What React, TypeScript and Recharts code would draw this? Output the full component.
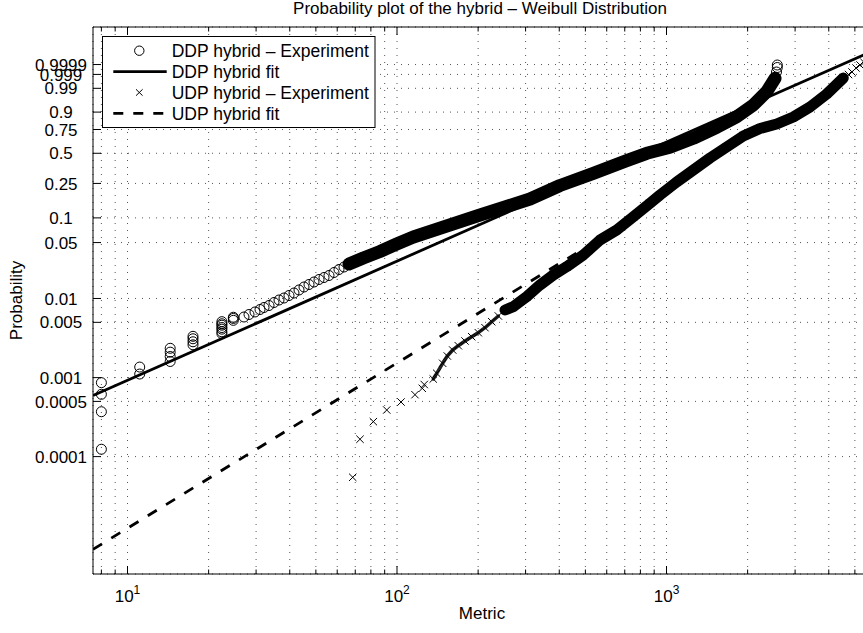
import React from "react"
import { ComposedChart, XAxis, YAxis, CartesianGrid, Line, Scatter } from "recharts"

// DDP hybrid - experiment: the separate circles (left) and the hook at the top
const ddpMetric = [
  8, 8, 8, 8, 11.1, 11.1, 14.4, 14.4, 14.4, 14.4, 17.5, 17.5, 17.5, 17.5,
  22.4, 22.4, 22.4, 22.4, 22.4, 22.4, 22.4, 24.7, 24.7, 24.7,
  27.05, 28.24, 29.72, 31.02, 32.1, 33.5, 34.96, 36.49, 38.08, 39.74, 41.48, 43.29,
  45.18, 47.15, 49.21, 51.36, 53.6, 55.93, 58.38, 60.92, 63.58,
  2559, 2577, 2577,
]
const ddpProb = [
  0.000124, 0.00037, 0.000615, 0.000863, 0.00111, 0.00136, 0.0016, 0.00185, 0.0021, 0.00235,
  0.0026, 0.00284, 0.0031, 0.00333, 0.0036, 0.0038, 0.0041, 0.0043, 0.0046, 0.0048, 0.0051,
  0.0053, 0.0056, 0.0058,
  0.00584, 0.00628, 0.00676, 0.00726, 0.0077, 0.00816, 0.0089, 0.00957, 0.01014, 0.0109,
  0.01172, 0.0128, 0.01395, 0.015, 0.01612, 0.01733, 0.01836, 0.01945, 0.02121, 0.02313, 0.02486,
  0.999395, 0.999786, 0.999887,
]
// DDP hybrid - experiment: the dense band (thousands of overlapping circles)
const ddpBandMetric = [
  66.36, 74.98, 86.47, 99.74, 115, 152.9, 203.3, 251.7, 311.5, 402.6, 535, 711.6, 844.5,
  1030, 1257, 1536, 1822, 2100, 2354, 2527,
]
const ddpBandProb = [
  0.0271, 0.0322, 0.0388, 0.048, 0.0586, 0.0798, 0.1083, 0.1347, 0.167, 0.2373, 0.3206, 0.4277,
  0.4997, 0.5618, 0.6579, 0.7719, 0.8664, 0.9411, 0.9846, 0.9979,
]

// UDP hybrid - experiment: the separate crosses
const udpMetric = [
  68.5, 72.9, 81.7, 91.6, 103.5, 116.6, 124.1, 126.2,
  4735, 4879, 5049, 5224, 5406,
]
const udpProb = [
  0.0000547, 0.000166, 0.000277, 0.000389, 0.000491, 0.000608, 0.000732, 0.000818,
  0.99898, 0.999395, 0.99976, 0.999887, 0.999945,
]
// UDP hybrid - experiment: the thinner stretch where crosses start to overlap
const udpThinMetric = [136.3, 140.4, 147.7, 153.7, 160.9, 168.8, 178.8, 189.3, 200.3, 212.1, 224.6, 237.7]
const udpThinProb = [
  0.00096, 0.001134, 0.001518, 0.001877, 0.002236, 0.002534, 0.002906, 0.003294, 0.0037,
  0.004279, 0.005095, 0.006014,
]
// UDP hybrid - experiment: the dense band
const udpBandMetric = [
  251.7, 270.2, 302.9, 339.3, 380.2, 426.2, 491.2, 566.6, 653.6, 753.1, 868.4, 946, 1091,
  1258, 1450, 1672, 1927, 2223, 2564, 2955, 3408, 3931, 4529,
]
const udpBandProb = [
  0.007158, 0.00788, 0.01053, 0.01478, 0.01973, 0.02507, 0.0351, 0.0538, 0.07133, 0.10335,
  0.14887, 0.1856, 0.2592, 0.3467, 0.4533, 0.5649, 0.6824, 0.76, 0.8035, 0.8641, 0.9309,
  0.97982, 0.99802,
]

// fitted Weibull lines (straight on this paper), end points
const ddpFitMetric = [7.45, 5700]
const ddpFitProb = [0.000594, 0.9999983]
const udpFitMetric = [7.45, 672]
const udpFitProb = [0.0000067, 0.0789]

// axes
const xGridTicks = [
  8, 9, 10, 20, 30, 40, 50, 60, 70, 80, 90, 100, 200, 300, 400, 500, 600, 700, 800, 900,
  1000, 2000, 3000, 4000, 5000,
]
const xLabelTicks = [10, 100, 1000]
const yTickProbs = [0.0001, 0.0005, 0.001, 0.005, 0.01, 0.05, 0.1, 0.25, 0.5, 0.75, 0.9, 0.99, 0.999, 0.9999]
const yTickLabels = ["0.0001", "0.0005", "0.001", "0.005", "0.01", "0.05", "0.1", "0.25", "0.5", "0.75", "0.9", "0.99", "0.999", "0.9999"]

const FONT = "'Liberation Sans', Arial, Helvetica, sans-serif"

// Weibull probability paper: y = ln(-ln(1 - p))
const weib = (p: number) => Math.log(-Math.log(1 - p))
const rows = (xs: number[], ps: number[]) => xs.map((x, i) => ({ x, y: weib(ps[i]) }))

const ddpPoints = rows(ddpMetric, ddpProb)
const ddpBand = rows(ddpBandMetric, ddpBandProb)
const udpPoints = rows(udpMetric, udpProb)
const udpThin = rows(udpThinMetric, udpThinProb)
const udpBand = rows(udpBandMetric, udpBandProb)
const ddpFit = rows(ddpFitMetric, ddpFitProb)
const udpFit = rows(udpFitMetric, udpFitProb)
const yTicks = yTickProbs.map(weib)

const X_DOMAIN: [number, number] = [7.447, 5738]
const Y_DOMAIN: [number, number] = [-12.633, 3.315]

const Circle = (props: any) => (
  <circle cx={props.cx} cy={props.cy} r={5} fill="none" stroke="#000" strokeWidth={1} />
)

const Cross = (props: any) => {
  const { cx, cy } = props
  const s = 3.7
  return (
    <path
      d={`M${cx - s},${cy - s}L${cx + s},${cy + s}M${cx - s},${cy + s}L${cx + s},${cy - s}`}
      stroke="#000"
      strokeWidth={1}
      fill="none"
    />
  )
}

const BottomTick = (props: any) => {
  const { x, y, payload } = props
  const major = xLabelTicks.includes(payload.value)
  return (
    <g>
      <line x1={x} y1={y} x2={x} y2={y - (major ? 8 : 4.5)} stroke="#000" />
      {major && (
        <text x={x} y={y + 28} textAnchor="middle" fontSize={17} fill="#000" fontFamily={FONT}>
          10
          <tspan dy={-8} fontSize={12}>
            {Math.round(Math.log10(payload.value))}
          </tspan>
        </text>
      )}
    </g>
  )
}

const TopTick = (props: any) => {
  const { x, y, payload } = props
  const major = xLabelTicks.includes(payload.value)
  return <line x1={x} y1={y} x2={x} y2={y + (major ? 8 : 4.5)} stroke="#000" />
}

const LeftTick = (props: any) => {
  const { x, y, payload } = props
  let idx = 0
  yTicks.forEach((t, i) => {
    if (Math.abs(t - payload.value) < Math.abs(yTicks[idx] - payload.value)) idx = i
  })
  return (
    <g>
      <line x1={x} y1={y} x2={x + 8} y2={y} stroke="#000" />
      <text x={x - 32} y={y} dy="0.36em" textAnchor="middle" fontSize={17} fill="#000" fontFamily={FONT}>
        {yTickLabels[idx]}
      </text>
    </g>
  )
}

const legendRows = [
  { name: "DDP hybrid – Experiment", kind: "circle" },
  { name: "DDP hybrid fit", kind: "solid" },
  { name: "UDP hybrid – Experiment", kind: "cross" },
  { name: "UDP hybrid fit", kind: "dashed" },
]

export default function App() {
  return (
    <div
      style={{
        position: "absolute",
        left: 0,
        top: 0,
        width: 863,
        height: 633,
        overflow: "hidden",
        background: "#fff",
        fontFamily: FONT,
      }}
    >
      <ComposedChart width={871} height={633} margin={{ top: 0, right: 0, bottom: 0, left: 0 }}>
        <XAxis
          xAxisId="b"
          type="number"
          dataKey="x"
          scale="log"
          domain={X_DOMAIN}
          allowDataOverflow
          ticks={xGridTicks}
          interval={0}
          height={59}
          tickSize={0}
          tickMargin={0}
          tickLine={false}
          tick={<BottomTick />}
          axisLine={{ stroke: "#000" }}
        />
        <XAxis
          xAxisId="t"
          orientation="top"
          type="number"
          dataKey="x"
          scale="log"
          domain={X_DOMAIN}
          allowDataOverflow
          ticks={xGridTicks}
          interval={0}
          height={27}
          tickSize={0}
          tickMargin={0}
          tickLine={false}
          tick={<TopTick />}
          axisLine={{ stroke: "#000" }}
        />
        <YAxis
          yAxisId="l"
          type="number"
          dataKey="y"
          domain={Y_DOMAIN}
          allowDataOverflow
          ticks={yTicks}
          interval={0}
          width={93}
          tickSize={0}
          tickMargin={0}
          tickLine={false}
          tick={<LeftTick />}
          axisLine={{ stroke: "#000" }}
        />
        <CartesianGrid xAxisId="b" yAxisId="l" stroke="#555" strokeDasharray="1 6" />

        <Line
          xAxisId="b"
          yAxisId="l"
          data={ddpFit}
          dataKey="y"
          type="linear"
          stroke="#000"
          strokeWidth={2.8}
          dot={false}
          isAnimationActive={false}
        />
        <Line
          xAxisId="b"
          yAxisId="l"
          data={udpFit}
          dataKey="y"
          type="linear"
          stroke="#000"
          strokeWidth={2.8}
          strokeDasharray="10.5 10.9"
          dot={false}
          isAnimationActive={false}
        />
        <Line
          xAxisId="b"
          yAxisId="l"
          data={ddpBand}
          dataKey="y"
          type="linear"
          stroke="#000"
          strokeWidth={13}
          strokeLinecap="round"
          strokeLinejoin="round"
          dot={false}
          isAnimationActive={false}
        />
        <Line
          xAxisId="b"
          yAxisId="l"
          data={udpThin}
          dataKey="y"
          type="linear"
          stroke="#222"
          strokeWidth={3.5}
          strokeLinecap="round"
          strokeLinejoin="round"
          dot={false}
          isAnimationActive={false}
        />
        <Line
          xAxisId="b"
          yAxisId="l"
          data={udpBand}
          dataKey="y"
          type="linear"
          stroke="#000"
          strokeWidth={11}
          strokeLinecap="round"
          strokeLinejoin="round"
          dot={false}
          isAnimationActive={false}
        />
        <Scatter xAxisId="b" yAxisId="l" data={ddpPoints} shape={<Circle />} isAnimationActive={false} />
        <Scatter xAxisId="b" yAxisId="l" data={ddpBand} shape={<Circle />} isAnimationActive={false} />
        <Scatter xAxisId="b" yAxisId="l" data={udpPoints} shape={<Cross />} isAnimationActive={false} />
        <Scatter xAxisId="b" yAxisId="l" data={udpThin} shape={<Cross />} isAnimationActive={false} />
        <Scatter xAxisId="b" yAxisId="l" data={udpBand} shape={<Cross />} isAnimationActive={false} />
      </ComposedChart>

      <svg
        width={863}
        height={633}
        style={{ position: "absolute", left: 0, top: 0, pointerEvents: "none" }}
        fontFamily={FONT}
      >
        <text x={480} y={13.5} textAnchor="middle" fontSize={17} fill="#000">
          Probability plot of the hybrid – Weibull Distribution
        </text>
        <text x={482} y={619} textAnchor="middle" fontSize={17} fill="#000">
          Metric
        </text>
        <text transform="translate(21.5,300.5) rotate(-90)" textAnchor="middle" fontSize={17} fill="#000">
          Probability
        </text>

        <g>
          <rect x={102.5} y={36.5} width={272.5} height={91} fill="#fff" stroke="#000" strokeWidth={1} />
          {legendRows.map((r, i) => {
            const cy = 50.7 + i * 20.9
            return (
              <g key={r.name}>
                {r.kind === "circle" && <circle cx={139.3} cy={cy} r={4.7} fill="none" stroke="#000" />}
                {r.kind === "cross" && (
                  <path
                    d={`M136,${cy - 3.2}L142.6,${cy + 3.2}M136,${cy + 3.2}L142.6,${cy - 3.2}`}
                    stroke="#000"
                    fill="none"
                  />
                )}
                {r.kind === "solid" && <line x1={113.3} y1={cy} x2={166.7} y2={cy} stroke="#000" strokeWidth={2.8} />}
                {r.kind === "dashed" && (
                  <line x1={113.3} y1={cy} x2={166.7} y2={cy} stroke="#000" strokeWidth={2.8} strokeDasharray="10 10" />
                )}
                <text x={171.7} y={cy} dy="0.36em" fontSize={17.5} fill="#000">
                  {r.name}
                </text>
              </g>
            )
          })}
        </g>
      </svg>
    </div>
  )
}
